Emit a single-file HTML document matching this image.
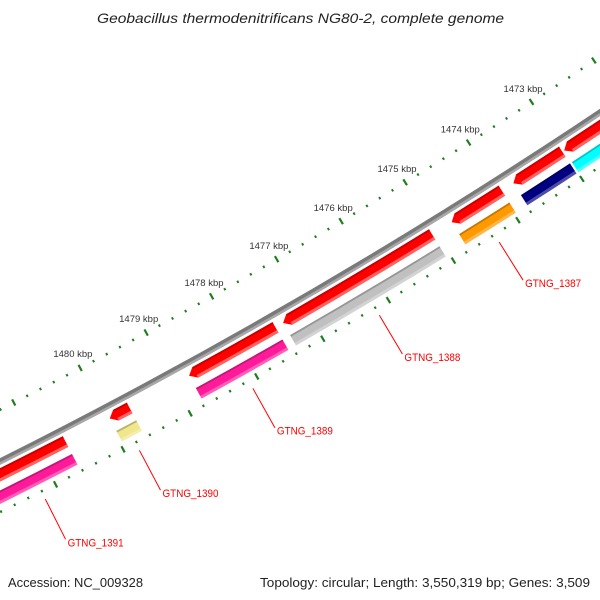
<!DOCTYPE html>
<html><head><meta charset="utf-8"><style>
html,body{margin:0;padding:0;background:#fff;}
svg{display:block;font-family:"Liberation Sans",sans-serif;}
</style></head><body>
<svg id="map" width="600" height="600" viewBox="0 0 600 600" xmlns="http://www.w3.org/2000/svg">
<rect x="0" y="0" width="600" height="600" fill="#fff"/>
<g id="ticks"></g>
<g id="backbone"></g>
<g id="genes"></g>
<g id="labels"></g>
<text x="97" y="23" textLength="407" lengthAdjust="spacingAndGlyphs" font-size="14" font-style="italic" fill="#222">Geobacillus thermodenitrificans NG80-2, complete genome</text>
<text x="8" y="587" textLength="135" lengthAdjust="spacingAndGlyphs" font-size="13" fill="#222">Accession: NC_009328</text>
<text x="260" y="587" textLength="330" lengthAdjust="spacingAndGlyphs" font-size="13" fill="#222">Topology: circular; Length: 3,550,319 bp; Genes: 3,509</text>
</svg>
<script>
const geneNames = ["GTNG_1385","GTNG_1386","GTNG_1387","GTNG_1388","GTNG_1389","GTNG_1390","GTNG_1391"];
const geneStarts = [1471500,1473020,1473971,1475058,1477466,1479668,1480625];
const geneEnds = [1472990,1473790,1474754,1477350,1478775,1479966,1481790];
const geneColors = ["#00ffff","#000080","#ff9900","#c0c0c0","#ff1a9a","#f0e68c","#ff1a9a"];
const geneShowLabel = [false,false,true,true,true,true,true];
const tickLabelsKbp = [1473,1474,1475,1476,1477,1478,1479,1480];
const tickStartBp = 1471000;
const tickEndBp = 1482400;
const tickStepBp = 200;

const NS="http://www.w3.org/2000/svg";
const CX=-2511, CY=-4544, R=5600, A0=59.87*Math.PI/180, PXBP=0.0755, REFBP=1477000;
function ang(bp){return A0+(bp-REFBP)*PXBP/R;}
function P(a,d){const r=R+d;return [CX+r*Math.cos(a),CY+r*Math.sin(a)];}
function f(p){return p[0].toFixed(2)+" "+p[1].toFixed(2);}
function band(a1,a2,d1,d2){
  const r1=R+d1,r2=R+d2;
  return "M"+f(P(a1,d1))+" A"+r1+" "+r1+" 0 0 1 "+f(P(a2,d1))+" L"+f(P(a2,d2))+" A"+r2+" "+r2+" 0 0 0 "+f(P(a1,d2))+" Z";
}
function arrow(a1,a2,d1,d2){
  const ah=a2-7/R, r1=R+d1,r2=R+d2;
  return "M"+f(P(a1,d1))+" A"+r1+" "+r1+" 0 0 1 "+f(P(ah,d1))+" L"+f(P(a2,(d1+d2)/2))+" L"+f(P(ah,d2))+" A"+r2+" "+r2+" 0 0 0 "+f(P(a1,d2))+" Z";
}
function mk(tag,attrs,parent){const e=document.createElementNS(NS,tag);for(const k in attrs)e.setAttribute(k,attrs[k]);parent.appendChild(e);return e;}

const bb=document.getElementById('backbone');
const aL=ang(1484000), aR=ang(1469000);
let e=mk('path',{d:band(aR,aL,-3,3),fill:"#7a7a7a"},bb);


e=mk('path',{d:band(aR,aL,0.5,3),fill:"#a8a8a8"},bb);



const tg=document.getElementById('ticks');
for(let bp=tickStartBp;bp<=tickEndBp;bp+=tickStepBp){
  const major=(bp%1000===0);
  const a=ang(bp), w=(major?1.1:1.0)/R;
  const o=major?band(a-w,a+w,-50,-43):band(a-w,a+w,-47.5,-45);
  e=mk('path',{d:o,fill:"#1e7d1e"},tg);
  
  
  const i=major?band(a-w,a+w,42,49):band(a-w,a+w,44,46.5);
  e=mk('path',{d:i,fill:"#1e7d1e"},tg);
  
  
}
tickLabelsKbp.forEach(k=>{
  const p=P(ang(k*1000),-62);
  const t=mk('text',{x:p[0].toFixed(1),y:(p[1]+3).toFixed(1),"text-anchor":"middle","font-size":"9.5",fill:"#333"},tg);
  t.textContent=k+" kbp";
  
  
});

const gg=document.getElementById('genes'), lg=document.getElementById('labels');
for(let g=0;g<geneNames.length;g++){
  const a1=ang(geneStarts[g]), a2=ang(geneEnds[g]);
  const grp=mk('g',{},gg);
  
  
  e=mk('path',{d:arrow(a1,a2,6,18),fill:"#ff0000"},grp);
  
  
  const ah=a2-7/R;
  e=mk('path',{d:band(a1,ah,6,7.8),fill:"#c80000"},grp);
  
  
  e=mk('path',{d:band(a1,ah,15,18),fill:"#ff6464"},grp);
  
  
  e=mk('path',{d:band(a1,a2,26,38),fill:geneColors[g]},grp);
  
  
  e=mk('path',{d:band(a1,a2,26,27.8),fill:"rgba(0,0,0,0.22)"},grp);
  
  
  e=mk('path',{d:band(a1,a2,35,38),fill:"rgba(255,255,255,0.3)"},grp);
  
  
  if(geneShowLabel[g]){
    const am=(a1+a2)/2, p1=P(am,54), p2=P(am,99);
    e=mk('line',{x1:p1[0].toFixed(1),y1:p1[1].toFixed(1),x2:p2[0].toFixed(1),y2:p2[1].toFixed(1),stroke:"#ff0000","stroke-width":"1"},lg);
    
    
    const t=mk('text',{x:(p2[0]+2).toFixed(1),y:(p2[1]+7).toFixed(1),"font-size":"11",fill:"#ff0000",textLength:"56",lengthAdjust:"spacingAndGlyphs"},lg);
    t.textContent=geneNames[g];
    
    
  }
}
</script>
</body></html>
